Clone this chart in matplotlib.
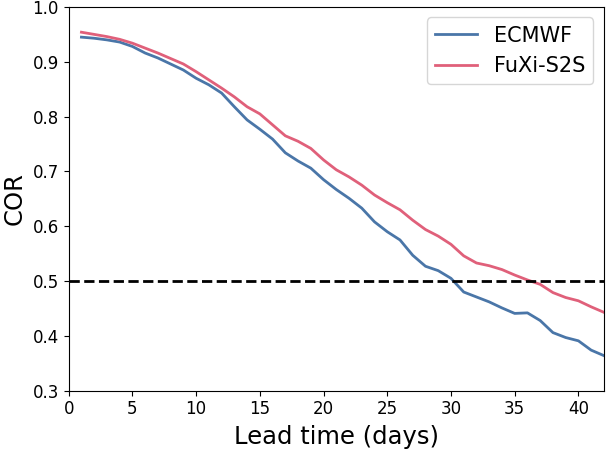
import matplotlib
matplotlib.use('Agg')
import matplotlib.pyplot as plt
import numpy as np

days = np.arange(1, 43)
ecmwf = [0.945, 0.943, 0.940, 0.936, 0.928, 0.916, 0.907, 0.896, 0.885, 0.870,
         0.858, 0.843, 0.818, 0.794, 0.777, 0.759, 0.734, 0.719, 0.706, 0.685,
         0.667, 0.651, 0.633, 0.608, 0.590, 0.575, 0.547, 0.527, 0.519, 0.505,
         0.480, 0.471, 0.462, 0.451, 0.441, 0.442, 0.428, 0.406, 0.397, 0.391,
         0.374, 0.364]
fuxi = [0.954, 0.950, 0.946, 0.941, 0.934, 0.925, 0.916, 0.906, 0.896, 0.882,
        0.867, 0.852, 0.836, 0.818, 0.805, 0.785, 0.765, 0.755, 0.742, 0.721,
        0.703, 0.690, 0.675, 0.657, 0.643, 0.630, 0.611, 0.594, 0.582, 0.567,
        0.546, 0.533, 0.528, 0.521, 0.511, 0.502, 0.494, 0.479, 0.470, 0.464,
        0.453, 0.443]
threshold = 0.5

fig = plt.figure(figsize=(6.1, 4.51), dpi=100)
ax = fig.add_axes([0.1126, 0.1337, 0.8774, 0.8508])
ax.plot(days, ecmwf, color='#4a76a8', lw=2, label='ECMWF')
ax.plot(days, fuxi, color='#e0607a', lw=2, label='FuXi-S2S')
ax.axhline(threshold, color='black', ls='--', lw=2)

ax.set_xlim(0, 42)
ax.set_ylim(0.3, 1.0)
ax.set_xticks(np.arange(0, 41, 5))
ax.tick_params(labelsize=12)
ax.set_xlabel('Lead time (days)', fontsize=17.5, labelpad=5)
ax.set_ylabel('COR', fontsize=17.5)
ax.legend(fontsize=15, loc='upper right')

fig.savefig('out.png', dpi=100)
